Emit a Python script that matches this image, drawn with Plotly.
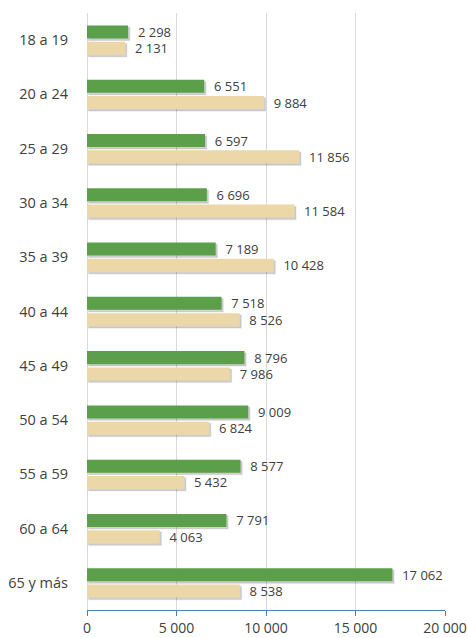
import plotly.graph_objects as go

categories = ["18 a 19", "20 a 24", "25 a 29", "30 a 34", "35 a 39", "40 a 44",
              "45 a 49", "50 a 54", "55 a 59", "60 a 64", "65 y más"]
green_values = [2298, 6551, 6597, 6696, 7189, 7518, 8796, 9009, 8577, 7791, 17062]
beige_values = [2131, 9884, 11856, 11584, 10428, 8526, 7986, 6824, 5432, 4063, 8538]
x_tickvals = [0, 5000, 10000, 15000, 20000]
x_ticktext = ["0", "5 000", "10 000", "15 000", "20 000"]

GREEN = "#5b9f4a"
BEIGE = "#ebd7a7"
FONT = "Open Sans"


def fmt(v):
    return "\u00a0\u00a0" + f"{v:,}".replace(",", " ")


fig = go.Figure()

bar_w = 0.24
offsets = {"g": -0.27, "b": 0.03}
shadow_dy = 0.035
shadow_dx = 90

for vals, key in [(green_values, "g"), (beige_values, "b")]:
    fig.add_trace(go.Bar(
        y=categories, x=vals, orientation="h",
        base=shadow_dx, width=bar_w, offset=offsets[key] + shadow_dy,
        marker=dict(color="rgba(0,0,0,0.18)", line=dict(color="rgba(0,0,0,0.07)", width=1.5)),
        hoverinfo="skip", showlegend=False,
    ))

for vals, key, col in [(green_values, "g", GREEN), (beige_values, "b", BEIGE)]:
    fig.add_trace(go.Bar(
        y=categories, x=vals, orientation="h",
        width=bar_w, offset=offsets[key],
        marker=dict(color=col, line=dict(width=0)),
        text=[fmt(v) for v in vals], textposition="outside",
        constraintext="none",
        textfont=dict(family=FONT, size=13, color="#404040"),
        cliponaxis=False, showlegend=False,
    ))

fig.update_layout(
    width=468, height=638,
    margin=dict(l=87, r=23, t=13, b=28, autoexpand=False),
    barmode="overlay",
    plot_bgcolor="white", paper_bgcolor="white",
    font=dict(family=FONT, color="#404040"),
    xaxis=dict(
        range=[0, 20000], tickvals=x_tickvals, ticktext=x_ticktext,
        showgrid=True, gridcolor="#d9d9d9", gridwidth=1,
        zeroline=True, zerolinecolor="#d9d9d9", zerolinewidth=1,
        showline=True, linecolor="#4a7ebb", linewidth=1,
        ticks="outside", tickcolor="#4a7ebb", ticklen=5,
        tickfont=dict(family=FONT, size=14, color="#404040"),
        automargin=False, fixedrange=True,
    ),
    yaxis=dict(
        autorange="reversed", type="category",
        showgrid=False, zeroline=False, showline=False,
        ticks="", ticklabelstandoff=18,
        tickfont=dict(family=FONT, size=14.5, color="#404040"),
        automargin=False, fixedrange=True,
    ),
)

# remove the browser's default 8px body margin so the figure sits at the page origin
fig.write_html(
    "out.html",
    config={"displayModeBar": False, "staticPlot": True},
    post_script="document.body.style.margin='0';document.body.style.overflow='hidden';",
)
